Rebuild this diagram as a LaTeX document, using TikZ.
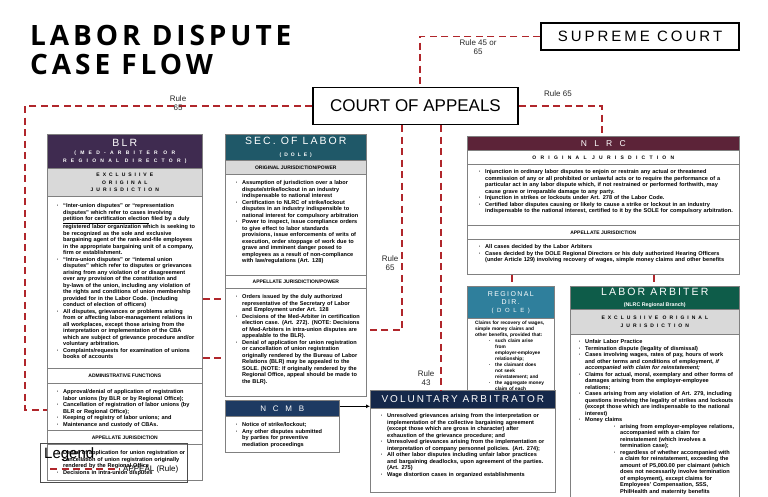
\documentclass[tikz,border=0pt]{standalone}
\usepackage{fontspec}
\setmainfont{Liberation Sans}
\newfontfamily\titlefont[LetterSpace=14]{Open Sans}
\newfontfamily\spacedA[LetterSpace=20]{Liberation Sans}
\newfontfamily\spacedB[LetterSpace=60]{Liberation Sans}
\newfontfamily\spacedC[LetterSpace=85]{Liberation Sans}
\usepackage{enumitem}
\setlist[itemize]{nosep, leftmargin=9pt, labelsep=4.5pt, label={\textperiodcentered}}
\usetikzlibrary{arrows.meta}

\definecolor{blrpurple}{HTML}{3F2B50}
\definecolor{secteal}{HTML}{1F5868}
\definecolor{nlrcmaroon}{HTML}{5C2338}
\definecolor{rdteal}{HTML}{2F7F9C}
\definecolor{lagreen}{HTML}{0E5C49}
\definecolor{vanavy}{HTML}{15284A}
\definecolor{ncmbblue}{HTML}{1D3A62}
\definecolor{rowgray}{HTML}{D9D9D9}
\definecolor{appealred}{HTML}{B0262B}
\definecolor{framegray}{HTML}{808080}

\tikzset{
  court/.style={draw=black, line width=1.5pt, fill=white, inner sep=0pt},
  panel/.style={draw=framegray, line width=0.6pt, fill=white, anchor=north west, inner sep=0pt},
  band/.style={panel, fill=#1, text=white, align=center},
  grayrow/.style={panel, fill=rowgray, align=center, font=\bfseries\fontsize{5}{7}\selectfont},
  whiterow/.style={panel, align=center, font=\bfseries\fontsize{5}{7}\selectfont},
  body/.style={anchor=north west, inner sep=0pt, align=left, font=\bfseries\fontsize{5.6}{6.5}\selectfont},
  appeal/.style={draw=appealred, line width=1.4pt, dash pattern=on 7pt off 4.5pt},
  rulenote/.style={font=\fontsize{8}{8.5}\selectfont, text=black!85, align=center, inner sep=0pt},
}

\begin{document}
\begin{tikzpicture}[x=1pt,y=-1pt]
    \useasboundingbox (0,0) rectangle (768,497);

    % title and courts
    \node[anchor=north west, inner sep=0pt, align=left, font=\titlefont\bfseries\fontsize{28}{28.5}\selectfont] (title) at (30,25) {LABOR DISPUTE\\CASE FLOW};
    \node[court, minimum width=198pt, minimum height=27pt, font=\spacedA\fontsize{15}{15}\selectfont] (sc) at (640,36.5) {SUPREME COURT};
    \node[court, minimum width=205pt, minimum height=37pt, font=\fontsize{17}{17}\selectfont] (coa) at (415.5,106) {COURT OF APPEALS};

    % BLR
    \node[panel, minimum width=155pt, minimum height=346pt] (blr) at (47,134) {};
    \node[band=blrpurple, minimum width=155pt, minimum height=34pt, font=\spacedC\bfseries\fontsize{5}{8}\selectfont] (blrhead) at (47,134) {\spacedA\mdseries\fontsize{10.5}{11}\selectfont BLR\\(MED-ARBITER OR\\REGIONAL DIRECTOR)};
    \node[grayrow, minimum width=155pt, minimum height=28pt, font=\spacedB\bfseries\fontsize{5}{7.5}\selectfont] (blrexcl) at (47,168) {EXCLUSIIVE\\ORIGINAL\\JURISDICTION};
    \node[body, text width=142pt] (blrexcltxt) at (54,201) {\begin{itemize}
        \item ``Inter-union disputes'' or ``representation disputes'' which refer to cases involving \underline{petition for certification election} filed by a duly registered labor organization which is seeking to be recognized as the sole and exclusive bargaining agent of the rank-and-file employees in the appropriate bargaining unit of a company, firm or establishment.
        \item ``Intra-union disputes'' or ``internal union disputes'' which refer to disputes or grievances arising from any violation of or disagreement over any provision of the constitution and by-laws of the union, including any violation of the rights and conditions of union membership provided for in the Labor Code. (including conduct of election of officers)
        \item All disputes, grievances or problems arising from or affecting labor-management relations in all workplaces, except those arising from the interpretation or implementation of the CBA which are subject of grievance procedure and/or voluntary arbitration.
        \item Complaints/requests for examination of unions books of accounts
    \end{itemize}};
    \node[whiterow, minimum width=155pt, minimum height=15pt] (blradmin) at (47,368) {ADMINISTRATIVE FUNCTIONS};
    \node[body, text width=142pt] (blradmintxt) at (54,387) {\begin{itemize}
        \item Approval/denial of application of registration labor unions (by BLR or by Regional Office);
        \item Cancellation of registration of labor unions (by BLR or Regional Office);
        \item Keeping of registry of labor unions; and
        \item Maintenance and custody of CBAs.
    \end{itemize}};
    \node[whiterow, minimum width=155pt, minimum height=14pt] (blrapp) at (47,430) {APPELLATE JURISDICTION};
    \node[body, text width=142pt] (blrapptxt) at (54,448) {\begin{itemize}
        \item Denial of application for union registration or cancellation of union registration originally rendered by the Regional Office
        \item Decisions in intra-union disputes
    \end{itemize}};

    % SEC. OF LABOR
    \node[panel, minimum width=141pt, minimum height=262pt] (sec) at (225,134) {};
    \node[band=secteal, minimum width=141pt, minimum height=26pt] (sechead) at (225,134) {\spacedA\fontsize{10.5}{11}\selectfont SEC. OF LABOR\\\spacedB\bfseries\fontsize{5}{7}\selectfont (DOLE)};
    \node[grayrow, minimum width=141pt, minimum height=14pt] (secorig) at (225,160) {ORIGINAL JURISDICTION/POWER};
    \node[body, text width=127pt] (secorigtxt) at (233,178) {\begin{itemize}
        \item Assumption of jurisdiction over a labor dispute/strike/lockout in an industry indispensable to national interest
        \item Certification to NLRC of strike/lockout disputes in an industry indispensible to national interest for compulsory arbitration
        \item Power to inspect, issue compliance orders to give effect to labor standards provisions, issue enforcements of writs of execution, order stoppage of work due to grave and imminent danger posed to employees as a result of non-compliance with law/regulations (Art. 128)
    \end{itemize}};
    \node[whiterow, minimum width=141pt, minimum height=13pt] (secapp) at (225,275) {APPELLATE JURISDICTION/POWER};
    \node[body, text width=127pt] (secapptxt) at (233,292) {\begin{itemize}
        \item Orders issued by the duly authorized representative of the Secretary of Labor and Employment under Art. 128
        \item Decisions of the Med-Arbiter in certification election case. (Art. 272). (NOTE: Decisions of Med-Arbiters in intra-union disputes are appealable to the BLR).
        \item Denial of application for union registration or cancellation of union registration originally rendered by the Bureau of Labor Relations (BLR) may be appealed to the SOLE. (NOTE: If originally rendered by the Regional Office, appeal should be made to the BLR).
    \end{itemize}};

    % NCMB
    \node[panel, minimum width=114pt, minimum height=52pt] (ncmb) at (225,400) {};
    \node[band=ncmbblue, minimum width=114pt, minimum height=16pt, font=\spacedC\fontsize{8}{9}\selectfont] (ncmbhead) at (225,400) {NCMB};
    \node[body, text width=94pt] (ncmbtxt) at (233,420) {\begin{itemize}
        \item Notice of strike/lockout;
        \item Any other disputes submitted by parties for preventive mediation proceedings
    \end{itemize}};

    % NLRC
    \node[panel, minimum width=272pt, minimum height=138pt] (nlrc) at (467,136) {};
    \node[band=nlrcmaroon, minimum width=272pt, minimum height=14pt, font=\spacedC\fontsize{8.5}{9}\selectfont] (nlrchead) at (467,136) {NLRC};
    \node[whiterow, minimum width=272pt, minimum height=14pt, font=\spacedC\bfseries\fontsize{5}{6}\selectfont] (nlrcorig) at (467,150) {ORIGINAL JURISDICTION};
    \node[body, text width=259pt] (nlrcorigtxt) at (476,167) {\begin{itemize}
        \item Injunction in ordinary labor disputes to enjoin or restrain any actual or threatened commission of any or all prohibited or unlawful acts or to require the performance of a particular act in any labor dispute which, if not restrained or performed forthwith, may cause grave or irreparable damage to any party.
        \item Injunction in strikes or lockouts under Art. 278 of the Labor Code.
        \item Certified labor disputes causing or likely to cause a strike or lockout in an industry indispensable to the national interest, certified to it by the SOLE for compulsory arbitration.
    \end{itemize}};
    \node[whiterow, minimum width=272pt, minimum height=14pt] (nlrcapp) at (467,225) {APPELLATE JURISDICTION};
    \node[body, text width=259pt] (nlrcapptxt) at (476,242) {\begin{itemize}
        \item All cases decided by the Labor Arbiters
        \item Cases decided by the DOLE Regional Directors or his duly authorized Hearing Officers (under Article 129) involving recovery of wages, simple money claims and other benefits
    \end{itemize}};

    % Regional Director
    \node[panel, minimum width=87pt, minimum height=114pt] (rd) at (467,286) {};
    \node[band=rdteal, minimum width=87pt, minimum height=32pt, font=\spacedA\fontsize{7}{8}\selectfont] (rdhead) at (467,286) {REGIONAL\\DIR.\\\spacedB\fontsize{6}{8}\selectfont (DOLE)};
    \node[body, text width=70pt, font=\bfseries\fontsize{4.8}{6}\selectfont] (rdtxt) at (475,321) {Claims for recovery of wages, simple money claims and other benefits, provided that:
        \begin{itemize}[leftmargin=20pt]
        \item such claim arise from employer-employee relationship;
        \item the claimant does not seek reinstatement; and
        \item the aggregate money claim of each employee does not exceed P5,000.00
    \end{itemize}};

    % Labor Arbiter
    \node[panel, minimum width=169pt, minimum height=215pt] (la) at (570,286) {};
    \node[band=lagreen, minimum width=169pt, minimum height=23pt] (lahead) at (570,286) {\spacedA\fontsize{10.5}{11}\selectfont LABOR ARBITER\\[-1.5pt]\rmfamily\bfseries\fontsize{5.3}{6.5}\selectfont (NLRC Regional Branch)};
    \node[grayrow, minimum width=169pt, minimum height=25pt, font=\spacedB\bfseries\fontsize{5}{8}\selectfont] (laexcl) at (570,309) {EXCLUSIIVE ORIGINAL\\JURISDICTION};
    \node[body, text width=158pt] (latxt) at (576,337) {\begin{itemize}
        \item Unfair Labor Practice
        \item Termination dispute (legality of dismissal)
        \item Cases involving wages, rates of pay, hours of work and other terms and conditions of employment, \textit{if accompanied with claim for reinstatement;}
        \item Claims for actual, moral, exemplary and other forms of damages arising from the employer-employee relations;
        \item Cases arising from any violation of Art. 279, including questions involving the legality of strikes and lockouts (except those which are indispensable to the national interest)
        \item Money claims
        \begin{itemize}[leftmargin=35pt]
            \item arising from employer-employee relations, accompanied with a claim for reinstatement (which involves a termination case);
            \item regardless of whether accompanied with a claim for reinstatement, exceeding the amount of P5,000.00 per claimant (which does not necessarily involve termination of employment), except claims for Employees' Compensation, SSS, PhilHealth and maternity benefits
        \end{itemize}
    \end{itemize}};

    % Voluntary Arbitrator
    \node[panel, minimum width=185pt, minimum height=102pt] (va) at (370,390) {};
    \node[band=vanavy, minimum width=185pt, minimum height=18pt, font=\spacedA\fontsize{10}{11}\selectfont] (vahead) at (370,390) {VOLUNTARY ARBITRATOR};
    \node[body, text width=169pt] (vatxt) at (378,411) {\begin{itemize}
        \item Unresolved grievances arising from the interpretation or implementation of the collective bargaining agreement (except those which are gross in character) after exhaustion of the grievance procedure; and
        \item Unresolved grievances arising from the implementation or interpretation of company personnel policies. (Art. 274);
        \item All other labor disputes including unfair labor practices and bargaining deadlocks, upon agreement of the parties. (Art. 275)
        \item Wage distortion cases in organized establishments
    \end{itemize}};

    % appeals
    \coordinate (blrin) at (25,410);
    \coordinate (secin) at (402,330);
    \coordinate (vain) at (441,0);
    \draw[appeal] (sc.west) -| ([xshift=4.5pt]coa.north);
    \draw[appeal] (coa.west) -| (blrin) -- (blrin -| blr.west);
    \draw[appeal] (coa.east) -| (nlrchead.north -| 602,0);
    \draw[appeal] (coa.south -| secin) -- (secin) -- (secin -| sec.east);
    \draw[appeal] (coa.south -| vain) -- (vahead.north -| vain);
    \draw[appeal] (nlrc.south -| 512,0) -- (rdhead.north -| 512,0);
    \draw[appeal] (nlrc.south -| 654,0) -- (lahead.north -| 654,0);
    \draw[appeal] (blr.east |- 0,299) -- (sec.west |- 0,299);
    \draw[appeal] (blr.east |- 0,358) -- (sec.west |- 0,358);
    \draw[-{Latex[length=4pt,width=4pt]}, line width=0.9pt] ([yshift=2pt]ncmbhead.east) -- ([yshift=2pt]ncmbhead.east -| vahead.west);

    \node[rulenote] (rulesc) at (478,47) {Rule 45 or\\65};
    \node[rulenote] (rulecoa) at (178,103) {Rule\\65};
    \node[rulenote] (rulenlrc) at (558,94) {Rule 65};
    \node[rulenote] (rulesec) at (390,263) {Rule\\65};
    \node[rulenote] (ruleva) at (426,378) {Rule\\43};

    % legend
    \node[draw=black!70, line width=0.6pt, anchor=north west, minimum width=147pt, minimum height=39pt, inner sep=0pt] (legend) at (40,443) {};
    \node[anchor=west, inner sep=0pt, font=\fontsize{15}{15}\selectfont] (legendtitle) at (44,455) {Legend};
    \coordinate (keya) at (50,469);
    \coordinate (keyb) at (120,469);
    \draw[appeal] (keya) -- (keyb);
    \node[anchor=west, inner sep=0pt, font=\fontsize{8}{8}\selectfont] (legendkey) at (123,469) {APPEAL (Rule)};
\end{tikzpicture}
\end{document}
